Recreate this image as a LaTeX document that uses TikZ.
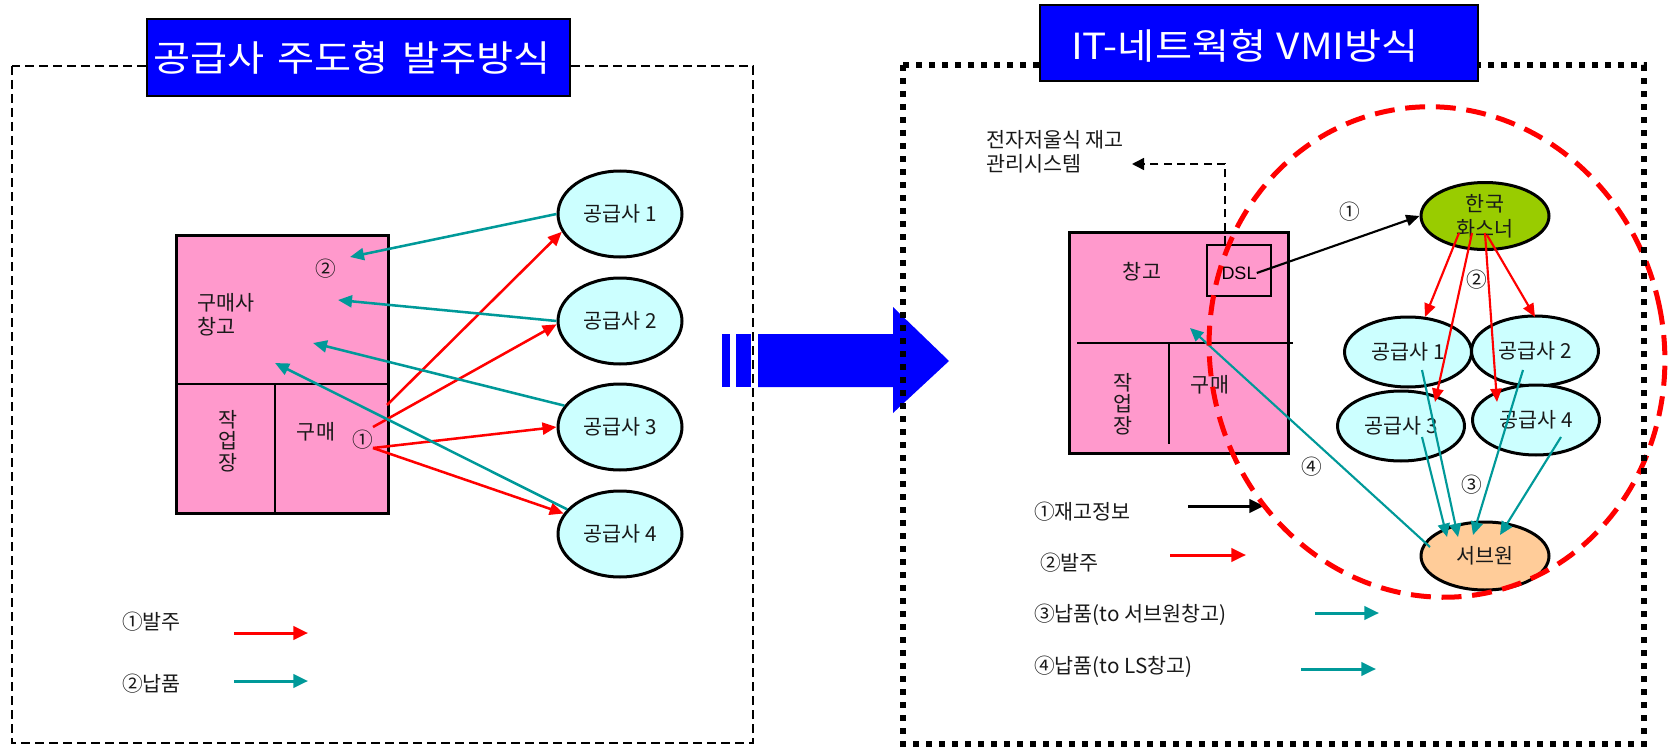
\documentclass[tikz,border=0pt]{standalone}
\usepackage{fontspec}
\setmainfont{Noto Sans CJK KR}
\newfontfamily\latf{Liberation Sans}
\newfontfamily\titlef[FakeStretch=1.12]{Noto Sans CJK KR}
\usetikzlibrary{arrows.meta,shapes.geometric}
\definecolor{pinkf}{HTML}{FF99CC}
\definecolor{cyanf}{HTML}{CCFFFF}
\definecolor{greenf}{HTML}{99CC00}
\definecolor{peachf}{HTML}{FFCC99}
\definecolor{tealc}{HTML}{009999}
\definecolor{redc}{HTML}{FF0000}
\definecolor{bluef}{HTML}{0000FF}
\begin{document}
\begin{tikzpicture}[x=0.75pt,y=-0.75pt,
  txt/.style={font=\fontsize{15.5pt}{18pt}\selectfont, inner sep=0pt, text=black!90},
  vtxt/.style={font=\fontsize{15.5pt}{16pt}\selectfont, inner sep=0pt, text=black!90, align=center},
  ell/.style={ellipse, draw, line width=2.25pt, inner sep=0pt, font=\fontsize{15.5pt}{18.75pt}\selectfont, text=black!90, align=center},
  supL/.style={ell, fill=cyanf, minimum width=93pt, minimum height=64.5pt},
  supR/.style={ell, fill=cyanf, minimum width=95.25pt, minimum height=52.5pt},
  pinkbox/.style={draw, line width=2.25pt, fill=pinkf, inner sep=0pt},
  titlebox/.style={draw, line width=1.5pt, fill=bluef, inner sep=0pt},
  titletxt/.style={font=\titlef\fontsize{27pt}{30pt}\selectfont, text=white, inner sep=0pt},
  tarrL/.style={draw=tealc, line width=1.9pt, -{Triangle[length=10.5pt,width=9pt]}},
  rarrL/.style={draw=redc, line width=1.9pt, -{Triangle[length=10.5pt,width=9pt]}},
  tarrR/.style={draw=tealc, line width=1.6pt, -{Triangle[length=10pt,width=9pt]}},
  rarrR/.style={draw=redc, line width=1.6pt, -{Triangle[length=10pt,width=8.5pt]}},
  karrR/.style={draw=black, line width=1.6pt, -{Triangle[length=10pt,width=8.5pt]}},
  legarrow/.style={line width=2.25pt, -{Triangle[length=11pt,width=10pt]}}
]
\useasboundingbox (0,0) rectangle (1672,749);

% big striped blue arrow
\fill[bluef] (722,334) rectangle (730,387);
\fill[bluef] (736,334) rectangle (751,387);
\fill[bluef] (758,334) -- (893,334) -- (893,307) -- (949,361) -- (893,413) -- (893,387) -- (758,387) -- cycle;

% ================= left panel =================
\node[pinkbox, minimum width=159pt, minimum height=208.5pt] (lwh) at (282,374) {};
\draw[line width=1.5pt] (176,384) -- (388,384);
\draw[line width=1.5pt] (275,384) -- (275,513);
\node[txt, align=left, anchor=west] (lwhname) at (197,315) {구매사\\창고};
\node[txt] (lc2) at (326,269) {②};
\node[vtxt] (lwork) at (228,441) {작\\업\\장};
\node[txt] (lbuy) at (316,432) {구매};
\node[txt] (lc1) at (363,440) {①};

\node[supL] (s1) at (620,214) {공급사 1};
\node[supL] (s2) at (620,321) {공급사 2};
\node[supL] (s3) at (620,427) {공급사 3};
\node[supL] (s4) at (620,534) {공급사 4};

\draw[rarrL] ([shift={(24,-35)}]lc1.center) -- (s1.197);
\draw[rarrL] ([shift={(10,-13)}]lc1.center) -- (s2.183);
\draw[rarrL] ([shift={(10,8)}]lc1.center) -- (s3.180);
\draw[rarrL] ([shift={(10,8)}]lc1.center) -- (s4.160);

\draw[tarrL] (s1.west) -- ([shift={(68,-117)}]lwh.center);
\draw[tarrL] (s2.west) -- ([shift={(56,-74)}]lwh.center);
\draw[tarrL] (s3.159) -- ([shift={(31,-31)}]lwh.center);
\draw[tarrL] (s4.155) -- ([shift={(-7,-11)}]lwh.center);

% legend left
\node[txt, anchor=west] (lg1) at (122,622) {①발주};
\node[txt, anchor=west] (lg2) at (122,684) {②납품};
\coordinate (lg1a) at (234,633);
\coordinate (lg1b) at (308,633);
\coordinate (lg2a) at (234,681);
\coordinate (lg2b) at (308,681);
\draw[legarrow, draw=redc] (lg1a) -- (lg1b);
\draw[legarrow, draw=tealc] (lg2a) -- (lg2b);

% ================= right panel =================
\node[pinkbox, minimum width=164.25pt, minimum height=165.75pt] (rwh) at (1178.5,342.5) {};
\draw[line width=1.5pt] (1077,343) -- (1293,343);
\draw[line width=1.5pt] (1169,343) -- (1169,444);
\node[draw, line width=1.5pt, minimum width=48pt, minimum height=38.25pt, inner sep=0pt] (dslb) at (1239,270.5) {};
\node[font=\latf\fontsize{13.5pt}{15pt}\selectfont, inner sep=0pt] (dsltxt) at (1239,273) {DSL};
\node[txt] (rstore) at (1142,272) {창고};
\node[vtxt] (rwork) at (1123,404) {작\\업\\장};
\node[txt] (rbuy) at (1210,385) {구매};

\node[txt, align=left, anchor=west] (esys) at (986,152) {전자저울식 재고\\관리시스템};
\coordinate (esa) at (1132,164);
\draw[line width=1.1pt, dash pattern=on 6pt off 4pt, -{Triangle[length=9pt,width=9pt]}] ([shift={(19,0)}]dslb.north west) |- (esa);

\node[ell, fill=greenf, minimum width=96pt, minimum height=50.25pt] (h) at (1485,216) {한국\\화스너};
\node[supR] (q1) at (1408,352) {공급사 1};
\node[supR] (q2) at (1535,351) {공급사 2};
\node[supR] (q3) at (1401,426) {공급사 3};
\node[supR] (q4) at (1536,420) {공급사 4};
\node[ell, fill=peachf, minimum width=96pt, minimum height=51pt] (sb) at (1485,556) {서브원};

\draw[karrR] (dsltxt.east) -- (h.west);
\node[txt] (rc1) at (1350,212) {①};

\draw[rarrR] ([shift={(-26,17)}]h.center) -- ([shift={(17,-35)}]q1.center);
\draw[rarrR] ([shift={(-13,17)}]h.center) -- ([shift={(34,-24)}]q3.center);
\draw[rarrR] ([shift={(0,17)}]h.center) -- ([shift={(-39,-18)}]q4.center);
\draw[rarrR] ([shift={(2,19)}]h.center) -- ([shift={(0,-34)}]q2.center);
\node[txt] (rc2) at (1477,280) {②};

\draw[tarrR] ([shift={(21,11)}]q3.center) -- ([shift={(-38,-19)}]sb.center);
\draw[tarrR] ([shift={(14,18)}]q1.center) -- ([shift={(-27,-19)}]sb.center);
\draw[tarrR] ([shift={(-12,19)}]q2.center) -- ([shift={(-12,-21)}]sb.center);
\draw[tarrR] ([shift={(25,17)}]q4.center) -- ([shift={(15,-21)}]sb.center);
\node[txt] (rc3) at (1472,485) {③};

\draw[tarrR] ([shift={(-55,-9)}]sb.center) -- ([shift={(11.5,-14.5)}]rwh.center);
\node[txt] (rc4) at (1312,467) {④};

% legend right
\node[txt, anchor=west] (rg1) at (1034,512) {①재고정보};
\node[txt, anchor=west] (rg2) at (1040,563) {②발주};
\node[txt, anchor=west] (rg3) at (1034,615) {③납품(to 서브원창고)};
\node[txt, anchor=west] (rg4) at (1034,667) {④납품(to LS창고)};
\coordinate (rg1a) at (1188,506);
\coordinate (rg1b) at (1264,506);
\coordinate (rg2a) at (1170,555);
\coordinate (rg2b) at (1246,555);
\coordinate (rg3a) at (1315,613);
\coordinate (rg3b) at (1379,613);
\coordinate (rg4a) at (1301,669);
\coordinate (rg4b) at (1376,669);
\draw[legarrow, draw=black] (rg1a) -- (rg1b);
\draw[legarrow, draw=redc] (rg2a) -- (rg2b);
\draw[legarrow, draw=tealc] (rg3a) -- (rg3b);
\draw[legarrow, draw=tealc] (rg4a) -- (rg4b);

% red dashed boundary
\draw[redc, line width=3.75pt, dash pattern=on 15pt off 8pt, rotate around={12:(1437,352)}] (1437,352) ellipse [x radius=227, y radius=246];

% panel outlines
\draw[line width=1.5pt, dash pattern=on 6.75pt off 3.75pt] (12,66) rectangle (753,743);
\draw[line width=4.5pt, dash pattern=on 4.5pt off 5.25pt] (903,65) rectangle (1644,744);

% titles
\node[titlebox, minimum width=317.25pt, minimum height=57.75pt] (ltitle) at (358.5,57.5) {};
\node[titletxt] (ltitletxt) at (352,58) {공급사\hspace*{10pt}주도형\hspace*{10pt}발주방식};
\node[titlebox, minimum width=328.5pt, minimum height=57pt] (rtitle) at (1259,43) {};
\node[titletxt] (rtitletxt) at (1245,46) {IT-네트웍형\hspace*{8pt}VMI방식};
\end{tikzpicture}
\end{document}
